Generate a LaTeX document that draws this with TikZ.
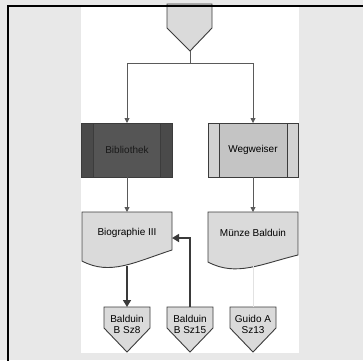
\documentclass[tikz,border=0pt]{standalone}
\usepackage{fontspec}
\setmainfont{Liberation Sans}
\usetikzlibrary{arrows.meta,backgrounds}
\definecolor{bggray}{HTML}{E8E8E8}
\definecolor{shapegray}{HTML}{DADADA}
\definecolor{darkbox}{HTML}{555555}
\definecolor{darkside}{HTML}{4A4A4A}
\definecolor{lightbox}{HTML}{C4C4C4}
\definecolor{lightside}{HTML}{D2D2D2}
\definecolor{edge}{HTML}{3C3C3C}
\definecolor{conn}{HTML}{3A3A3A}
\definecolor{connlight}{HTML}{5A5A5A}
\definecolor{faint}{HTML}{E2E2E2}
\begin{document}
\begin{tikzpicture}[x=1pt,y=-1pt,
  lbl/.style={inner sep=0pt, outer sep=0pt, font=\fontsize{10}{11}\selectfont, align=center, text=black},
  outline/.style={draw=edge, line width=0.9pt, line join=miter},
  upconn/.style={draw=connlight, line width=0.9pt, -{Triangle[length=5pt,width=5pt]}},
  lowconn/.style={draw=conn, line width=1.5pt, -{Triangle[length=7pt,width=8pt]}},
  faintconn/.style={draw=faint, line width=1pt}]
\useasboundingbox (0,0) rectangle (363,360);

% nodes (text and anchors)
\node[lbl, minimum width=45pt, minimum height=21pt] (top) at (189.5,17.5) {};
\coordinate (tip) at (190,51);
\node[lbl, minimum width=91pt, minimum height=54pt, text=black!90] (bib) at (127,150) {Bibliothek};
\node[lbl, minimum width=90pt, minimum height=54pt] (weg) at (253,150) {Wegweiser};
\node[lbl, minimum width=90pt, minimum height=42pt] (bio) at (127,233) {Biographie III};
\node[lbl, minimum width=90pt, minimum height=42pt] (mun) at (253,233) {Münze Balduin};
\coordinate (bioB) at (127,266);
\coordinate (bioR) at (172,238);
\coordinate (munB) at (253,266);
\node[lbl, minimum width=46pt, minimum height=34pt] (p1) at (127,324) {Balduin\\B Sz8};
\node[lbl, minimum width=46pt, minimum height=34pt] (p2) at (190,324) {Balduin\\B Sz15};
\node[lbl, minimum width=46pt, minimum height=34pt] (p3) at (253,324) {Guido A\\Sz13};

\begin{pgfonlayer}{background}
  \fill[bggray] (0,0) rectangle (363,360);
  \fill[white] (81,7) rectangle (299,353);
  % top off-page connector
  \path[outline, fill=shapegray] (167,4) -- (212,4) -- (212,28) -- (tip) -- (167,28) -- cycle;
  % Bibliothek
  \fill[darkside] (81,123) rectangle (172,177);
  \fill[darkbox] (93,123) rectangle (160,177);
  \draw[outline] (81,123) rectangle (172,177);
  \draw[outline] (93,123) -- (93,177) (160,123) -- (160,177);
  % Wegweiser
  \fill[lightside] (208,123) rectangle (298,177);
  \fill[lightbox] (219,123) rectangle (287,177);
  \draw[outline] (208,123) rectangle (298,177);
  \draw[outline] (219,123) -- (219,177) (287,123) -- (287,177);
  % documents
  \path[outline, fill=shapegray] (82,212) -- (172,212) -- (172,250)
     .. controls (135,262) and (110,276) .. (82,261) -- cycle;
  \path[outline, fill=shapegray] (208,212) -- (298,212) -- (298,255)
     .. controls (261,264) and (236,277) .. (208,262) -- cycle;
  % bottom off-page connectors
  \path[outline, fill=shapegray] (104,307) -- (150,307) -- (150,328) -- (127,352) -- (104,328) -- cycle;
  \path[outline, fill=shapegray] (167,307) -- (213,307) -- (213,328) -- (190,352) -- (167,328) -- cycle;
  \path[outline, fill=shapegray] (230,307) -- (276,307) -- (276,328) -- (253,352) -- (230,328) -- cycle;
\end{pgfonlayer}

% connectors
\draw[upconn] (tip) -- ++(0,12) -| (bib.north);
\draw[upconn] (tip) -- ++(0,12) -| (weg.north);
\draw[upconn] (bib.south) -- (bio.north);
\draw[upconn] (weg.south) -- (mun.north);
\draw[lowconn] (bioB) -- (p1.north);
\draw[lowconn] (p2.north) |- (bioR);
\draw[faintconn] (munB) -- (p3.north);

% frame
\draw[black, line width=2pt] (8,362) -- (8,6) -- (365,6);
\end{tikzpicture}
\end{document}
